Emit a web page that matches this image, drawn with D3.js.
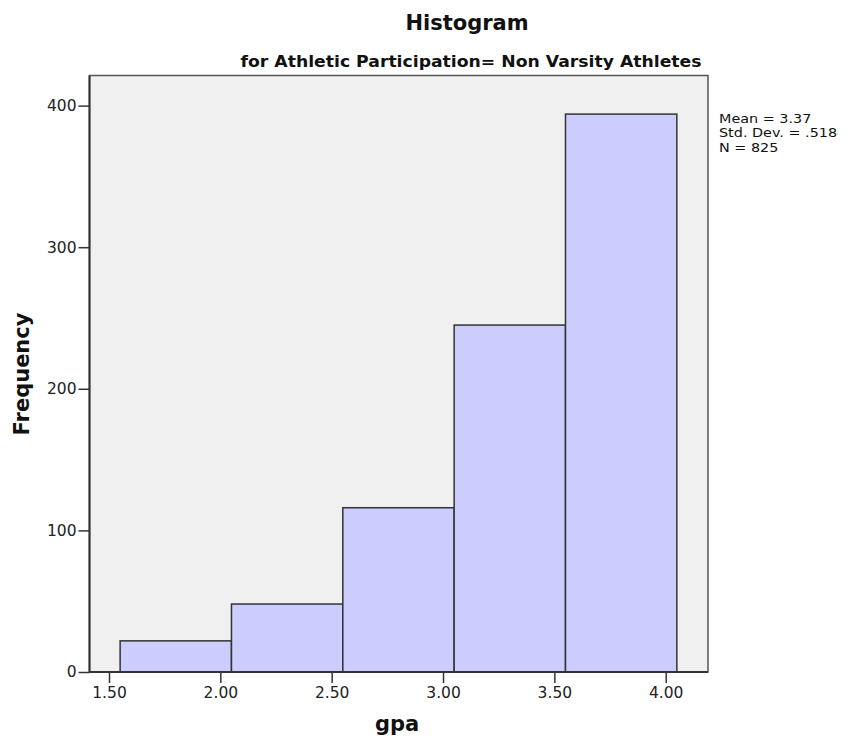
<!DOCTYPE html>
<html><head><meta charset="utf-8">
<script src="https://cdn.jsdelivr.net/npm/d3@7"></script>
<style>body{margin:0;background:#fff}text{font-family:"DejaVu Sans",Verdana,sans-serif}</style>
</head><body>
<script>
const binStarts = [1.55, 2.05, 2.55, 3.05, 3.55];
const binWidth = 0.5;
const frequencies = [22, 48, 116, 245, 394];
const xTicks = [1.5, 2.0, 2.5, 3.0, 3.5, 4.0];
const yTicks = [0, 100, 200, 300, 400];
const statsLines = ["Mean = 3.37", "Std. Dev. = .518", "N = 825"];

const W = 851, H = 740;
const svg = d3.select("body").append("svg").attr("width", W).attr("height", H);
const L = 89.5, R = 708, T = 75.5, B = 672;
const x = d3.scaleLinear().domain([1.5, 4.0]).range([109, 665.7]);
const y = d3.scaleLinear().domain([0, 400]).range([B, 105.6]);

svg.append("rect").attr("x", L).attr("y", T).attr("width", R - L).attr("height", B - T)
  .attr("fill", "#f0f0f0").attr("stroke", "#555").attr("stroke-width", 1.5);

svg.selectAll("rect.bar").data(frequencies).enter().append("rect").attr("class", "bar")
  .attr("x", (d, i) => x(binStarts[i]))
  .attr("width", (d, i) => x(binStarts[i] + binWidth) - x(binStarts[i]))
  .attr("y", d => y(d)).attr("height", d => B - y(d))
  .attr("fill", "#ccccff").attr("stroke", "#333").attr("stroke-width", 1.5);

const xa = svg.append("g").attr("transform", `translate(0,${B})`)
  .call(d3.axisBottom(x).tickValues(xTicks).tickFormat(d3.format(".2f")).tickSize(11).tickSizeOuter(0).tickPadding(4));
const ya = svg.append("g").attr("transform", `translate(${L},0)`)
  .call(d3.axisLeft(y).tickValues(yTicks).tickSize(11).tickSizeOuter(0).tickPadding(2));
[xa, ya].forEach(a => {
  a.select(".domain").remove();
  a.selectAll("line").attr("stroke", "#333").attr("stroke-width", 1.5);
  a.selectAll("text").attr("font-size", 15.5).attr("fill", "#222").style("font-family", '"DejaVu Sans",sans-serif');
});
svg.append("line").attr("x1", L).attr("x2", R).attr("y1", B).attr("y2", B).attr("stroke", "#333").attr("stroke-width", 2);
svg.append("line").attr("x1", L).attr("x2", L).attr("y1", T).attr("y2", B).attr("stroke", "#333").attr("stroke-width", 2);

svg.append("text").attr("x", 467).attr("y", 30).attr("text-anchor", "middle")
  .attr("font-size", 21).attr("font-weight", "bold").attr("fill", "#111").text("Histogram");
svg.append("text").attr("x", 471).attr("y", 67).attr("text-anchor", "middle")
  .attr("font-size", 15).attr("font-weight", "bold").attr("fill", "#111")
  .attr("textLength", 461).attr("lengthAdjust", "spacingAndGlyphs")
  .text("for Athletic Participation= Non Varsity Athletes");

svg.append("text").attr("transform", "translate(29,374) rotate(-90)").attr("text-anchor", "middle")
  .attr("font-size", 21).attr("font-weight", "bold").attr("fill", "#111").text("Frequency");
svg.append("text").attr("x", 397).attr("y", 731).attr("text-anchor", "middle")
  .attr("font-size", 21).attr("font-weight", "bold").attr("fill", "#111").text("gpa");

const statsG = svg.append("g").attr("transform", "translate(719,0) scale(1.15,1)");
statsG.selectAll("text.stat").data(statsLines).enter().append("text").attr("class", "stat")
  .attr("x", 0).attr("y", (d, i) => 123 + i * 14.5)
  .attr("font-size", 12.5).attr("fill", "#111").text(d => d);
</script>
</body></html>
